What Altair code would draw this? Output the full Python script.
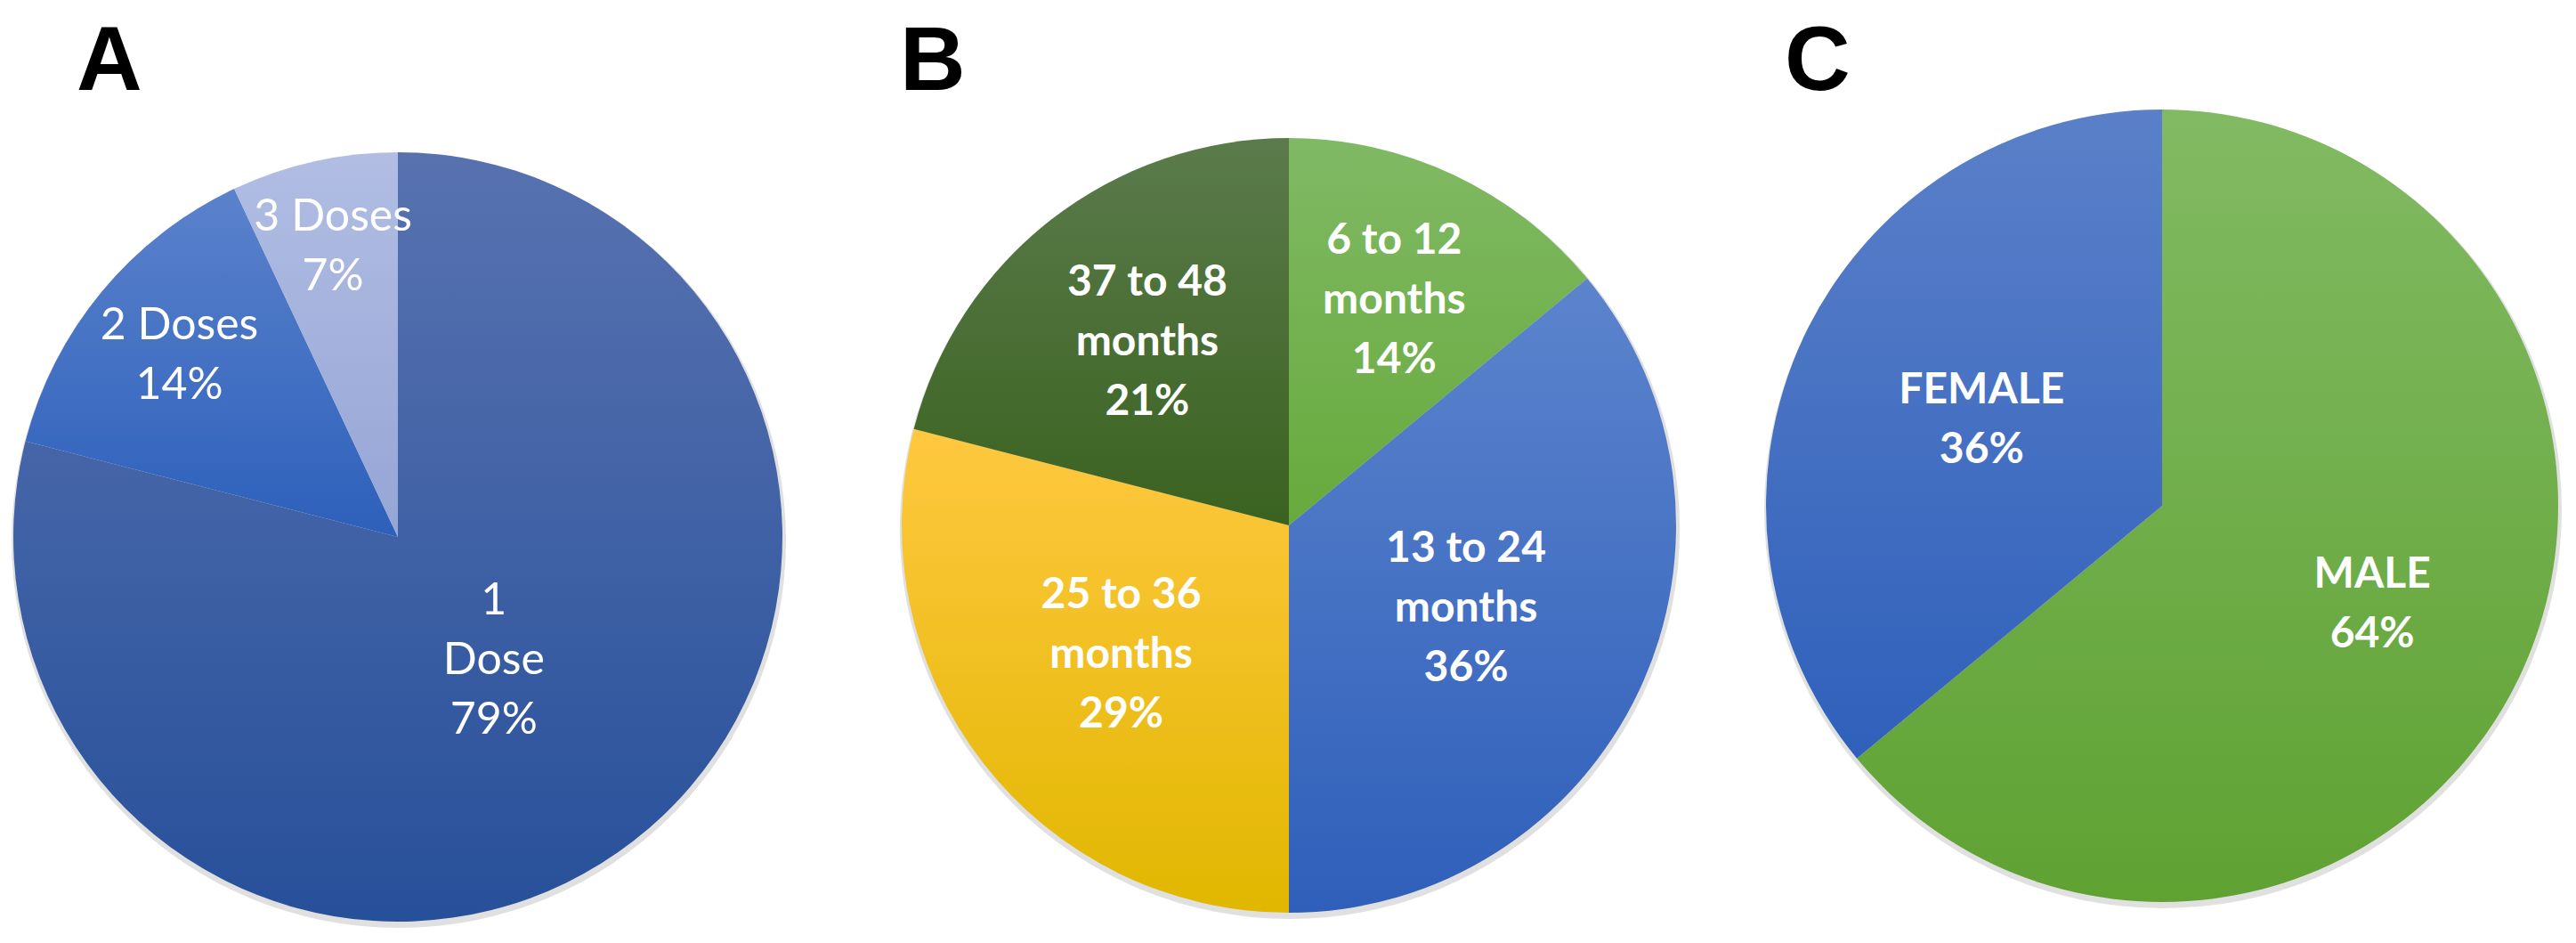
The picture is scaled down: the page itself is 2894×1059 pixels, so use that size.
import altair as alt
import pandas as pd

# ---- data ----
A_categories = ["1\nDose", "2 Doses", "3 Doses"]
A_values = [79, 14, 7]
B_categories = ["6 to 12\nmonths", "13 to 24\nmonths", "25 to 36\nmonths", "37 to 48\nmonths"]
B_values = [14, 36, 29, 21]
C_categories = ["MALE", "FEMALE"]
C_values = [64, 36]
panel_letters = ["A", "B", "C"]


def grad(top, bottom):
    return {"gradient": "linear", "x1": 0, "y1": 0, "x2": 0, "y2": 1,
            "stops": [{"offset": 0, "color": top}, {"offset": 1, "color": bottom}]}


A_fills = [grad("#5872b0", "#27509a"), grad("#5b82cc", "#2d60bb"), grad("#b1bde3", "#95a5d5")]
B_fills = [grad("#80b964", "#67aa3c"), grad("#5c84cd", "#2f5fba"),
           grad("#ffc840", "#e1b700"), grad("#5b7b4c", "#3a621f")]
C_fills = [grad("#82ba63", "#5fa232"), grad("#5b80c9", "#2f60bb")]

H = 1043
LINE_H = 67


def panel(letter, cats, vals, fills, width, cx, cy, R, rdomain, rrange, weight, fsize, lx):
    df = pd.DataFrame({"idx": list(range(len(cats))), "value": vals})
    df["label"] = [f"{c}\n{v}%" for c, v in zip(cats, vals)]
    df["nlines"] = [s.count("\n") + 1 for s in df["label"]]
    fill = alt.FillValue(
        value=fills[-1],
        condition=[{"test": f"datum.idx == {i}", "value": f} for i, f in enumerate(fills[:-1])],
    )
    base = alt.Chart(df).encode(
        theta=alt.Theta("value:Q", stack=True),
        order=alt.Order("idx:Q", sort="ascending"),
        detail="idx:N",
        x=alt.value(cx),
        y=alt.value(cy),
    )
    shadow = alt.Chart(pd.DataFrame({"s": [0]})).mark_arc(
        radius=R + 3, theta=0, theta2=6.2832, fill="#000000", opacity=0.12
    ).encode(x=alt.value(cx + 1), y=alt.value(cy + 4))
    arcs = base.mark_arc(radius=R).encode(fill=fill)
    labels = base.mark_text(
        font="Lato", fontSize=fsize, fontWeight=weight, color="white",
        lineBreak="\n", lineHeight=LINE_H, align="center", baseline="middle",
        dy=alt.expr(f"-(datum.nlines - 1) * {LINE_H / 2}"),
    ).encode(
        text="label:N",
        radius=alt.Radius("value:Q", scale=alt.Scale(type="linear", zero=False,
                                                     domain=rdomain, range=rrange)),
    )
    tag = alt.Chart(pd.DataFrame({"letter": [letter]})).mark_text(
        font="Liberation Sans", fontWeight="bold", fontSize=102, color="#000000",
        align="left", baseline="alphabetic",
    ).encode(text="letter:N", x=alt.value(lx), y=alt.value(93))
    return alt.layer(shadow, arcs, labels, tag).properties(width=width, height=H)


pA = panel(panel_letters[0], A_categories, A_values, A_fills, 937, 439, 595, 432,
           [7, 79], [334, 176], "normal", 50, 78)
pB = panel(panel_letters[1], B_categories, B_values, B_fills, 990, 503, 582, 435,
           [14, 36], [278, 220], "bold", 48, 66)
pC = panel(panel_letters[2], C_categories, C_values, C_fills, 951, 494, 560, 445,
           [36, 64], [224, 261], "bold", 48, 70)

chart = alt.hconcat(pA, pB, pC, spacing=0, padding=0).configure_view(stroke=None)
chart.save("out.html", embed_options={"renderer": "svg", "actions": False})
